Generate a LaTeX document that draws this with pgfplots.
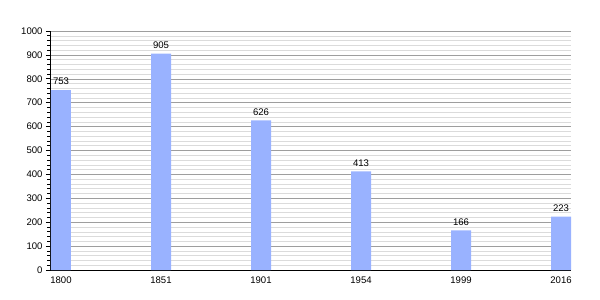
\documentclass[border=0pt]{standalone}
\usepackage{pgfplots}
\pgfplotsset{compat=1.18}
\usepackage{fontspec}
\setmainfont{Liberation Sans}
\definecolor{barblue}{RGB}{153,178,255}
\begin{document}
\begin{tikzpicture}
\begin{axis}[
  name=ax,
  scale only axis,
  width=521bp, height=239bp,
  xmin=-0.11, xmax=5.1,
  ymin=0, ymax=1000,
  axis lines*=left,
  axis line style={black, line width=0.8pt},
  xtick={0,1,2,3,4,5},
  xticklabels={1800,1851,1901,1954,1999,2016},
  x tick style={draw=none},
  ytick={0,100,...,1000},
  minor y tick num=4,
  ymajorgrids, yminorgrids,
  major grid style={draw=black!38, line width=0.5pt},
  minor grid style={draw=black!14, line width=0.5pt},
  y tick style={black, line width=0.6pt},
  tick align=outside,
  major tick length=4bp,
  minor tick length=2.5bp,
  tick label style={font=\fontsize{9.6}{11}\selectfont},
  /pgf/number format/assume math mode=true,
  yticklabel style={/pgf/number format/1000 sep={}},
  xticklabel style={yshift=1bp},
  clip=false,
]
\addplot[ybar, bar width=20bp, fill=barblue, draw=none,
  nodes near coords,
  nodes near coords style={font=\fontsize{9.6}{11}\selectfont, black, yshift=1.5bp},
] coordinates {(0,753) (1,905) (2,626) (3,413) (4,166) (5,223)};
\end{axis}
\path ([xshift=-50bp,yshift=-30bp]ax.south west) rectangle ([xshift=550bp,yshift=270bp]ax.south west);
\end{tikzpicture}
\end{document}
